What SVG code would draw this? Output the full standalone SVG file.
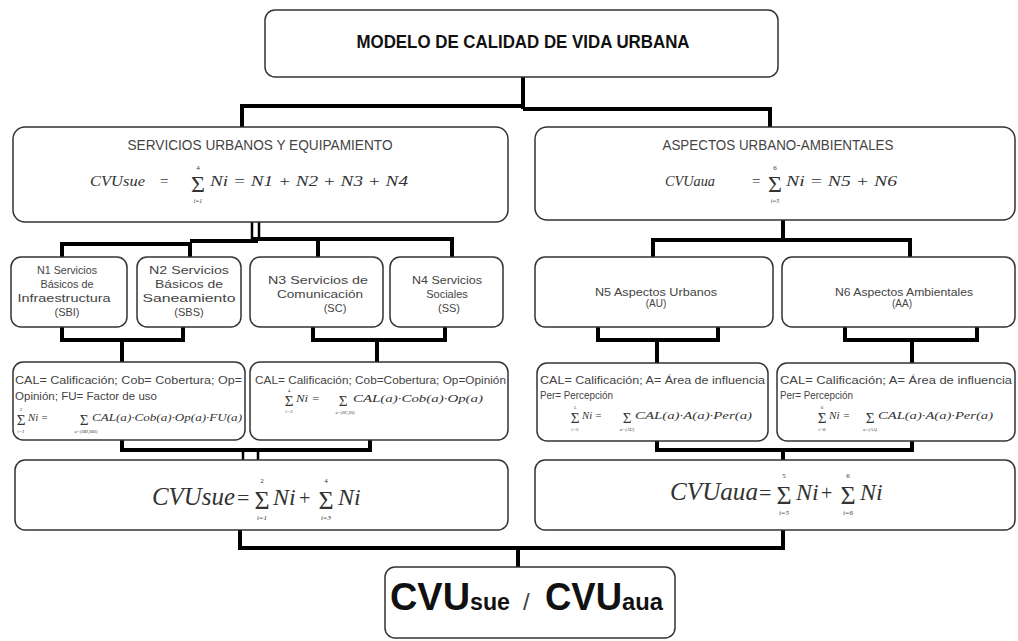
<svg xmlns="http://www.w3.org/2000/svg" width="1018" height="641" viewBox="0 0 1018 641">
<style>
.box{fill:#fff;stroke:#333;stroke-width:1.5}
.conn{fill:none;stroke:#000;stroke-width:4}
.thin{fill:none;stroke:#000;stroke-width:2.5}
.t{font-family:"Liberation Sans",Arial,sans-serif;fill:#444}
.c{text-anchor:middle}
.b{font-weight:bold;fill:#111}
.m{font-family:"Liberation Serif","Times New Roman",serif;font-style:italic;fill:#333}
.r{font-family:"Liberation Serif","Times New Roman",serif;fill:#333}
</style>
<rect width="1018" height="641" fill="#fff"/>
<g id="connectors">
<path class="conn" d="M523,77 V109 M242,128 V106 H523 M523,109 H770 V128"/>
<path class="thin" d="M252,222 V241 M259,222 V241"/>
<path class="conn" d="M62,257 V244 H190 V257 M190,241 H258 M252,239 H452 V257 M318,239 V257"/>
<path class="conn" d="M783,220 V240 M653,257 V240 H910 V257"/>
<path class="conn" d="M62,327 V340 H183 V327 M122,340 V362 M313,327 V340 H445 V327 M377,340 V362"/>
<path class="conn" d="M598,327 V340 H718 V327 M657,340 V363 M845,327 V340 H977 V327 M912,340 V363"/>
<path class="conn" d="M122,440 V450 H370 V440"/>
<path class="thin" d="M243,450 V460 M258,450 V460"/>
<path class="conn" d="M657,441 V450 H912 V441 M783,450 V460"/>
<path class="conn" d="M240,530 V548 H783 V530 M518,548 V567"/>
</g>
<g id="top">
<rect class="box" x="265" y="10" width="513" height="67" rx="10"/>
<text class="t b c" x="523" y="48" font-size="18" textLength="333" lengthAdjust="spacingAndGlyphs">MODELO DE CALIDAD DE VIDA URBANA</text>
</g>
<g id="servicios">
<rect class="box" x="13" y="127" width="495" height="95" rx="12"/>
<text class="t c" x="260" y="150" font-size="14" textLength="265" lengthAdjust="spacingAndGlyphs">SERVICIOS URBANOS Y EQUIPAMIENTO</text>
<text class="m" x="90" y="186" font-size="15" textLength="55" lengthAdjust="spacingAndGlyphs">CVUsue</text>
<text class="r" x="160" y="186" font-size="15">=</text>
<text class="r c" x="198" y="192" font-size="24">Σ</text>
<text class="r c" x="198" y="170" font-size="7">4</text>
<text class="m c" x="198" y="203" font-size="6">i=1</text>
<text class="m" x="210" y="186" font-size="15" textLength="198" lengthAdjust="spacingAndGlyphs">Ni = N1 + N2 + N3 + N4</text>
</g>
<g id="aspectos">
<rect class="box" x="535" y="127" width="480" height="93" rx="12"/>
<text class="t c" x="778" y="150" font-size="14" textLength="231" lengthAdjust="spacingAndGlyphs">ASPECTOS URBANO-AMBIENTALES</text>
<text class="m" x="665" y="186" font-size="14" textLength="50" lengthAdjust="spacingAndGlyphs">CVUaua</text>
<text class="r" x="752" y="186" font-size="15">=</text>
<text class="r c" x="775" y="192" font-size="24">Σ</text>
<text class="r c" x="775" y="170" font-size="7">6</text>
<text class="m c" x="775" y="203" font-size="6">i=5</text>
<text class="m" x="786" y="186" font-size="15" textLength="111" lengthAdjust="spacingAndGlyphs">Ni = N5 + N6</text>
</g>
<g id="n1">
<rect class="box" x="11" y="257" width="116" height="70" rx="10"/>
<text class="t c" x="67" y="274" font-size="11" textLength="60" lengthAdjust="spacingAndGlyphs">N1 Servicios</text>
<text class="t c" x="67" y="288" font-size="11" textLength="53" lengthAdjust="spacingAndGlyphs">Básicos de</text>
<text class="t c" x="64" y="302" font-size="11" textLength="93" lengthAdjust="spacingAndGlyphs">Infraestructura</text>
<text class="t c" x="67" y="316" font-size="11">(SBI)</text>
</g>
<g id="n2">
<rect class="box" x="137" y="257" width="104" height="70" rx="10"/>
<text class="t c" x="189" y="274" font-size="11" textLength="80" lengthAdjust="spacingAndGlyphs">N2 Servicios</text>
<text class="t c" x="189" y="288" font-size="11" textLength="68" lengthAdjust="spacingAndGlyphs">Básicos de</text>
<text class="t c" x="189" y="302" font-size="11" textLength="93" lengthAdjust="spacingAndGlyphs">Saneamiento</text>
<text class="t c" x="189" y="316" font-size="11">(SBS)</text>
</g>
<g id="n3">
<rect class="box" x="250" y="257" width="133" height="70" rx="10"/>
<text class="t c" x="318" y="284" font-size="11" textLength="100" lengthAdjust="spacingAndGlyphs">N3 Servicios de</text>
<text class="t c" x="320" y="298" font-size="11" textLength="86" lengthAdjust="spacingAndGlyphs">Comunicación</text>
<text class="t c" x="335" y="312" font-size="11">(SC)</text>
</g>
<g id="n4">
<rect class="box" x="390" y="257" width="113" height="70" rx="10"/>
<text class="t c" x="447" y="284" font-size="11" textLength="70" lengthAdjust="spacingAndGlyphs">N4 Servicios</text>
<text class="t c" x="447" y="298" font-size="11">Sociales</text>
<text class="t c" x="449" y="312" font-size="11">(SS)</text>
</g>
<g id="n5">
<rect class="box" x="535" y="257" width="238" height="70" rx="10"/>
<text class="t c" x="656" y="296" font-size="10" textLength="122" lengthAdjust="spacingAndGlyphs">N5 Aspectos Urbanos</text>
<text class="t c" x="656" y="307" font-size="10">(AU)</text>
</g>
<g id="n6">
<rect class="box" x="782" y="257" width="233" height="70" rx="10"/>
<text class="t c" x="904" y="296" font-size="10" textLength="138" lengthAdjust="spacingAndGlyphs">N6 Aspectos Ambientales</text>
<text class="t c" x="902" y="307" font-size="10">(AA)</text>
</g>
<g id="calA">
<rect class="box" x="13" y="362" width="232" height="78" rx="10"/>
<text class="t" x="15" y="384" font-size="10" textLength="227" lengthAdjust="spacingAndGlyphs">CAL= Calificación; Cob= Cobertura; Op=</text>
<text class="t" x="15" y="400" font-size="10" textLength="142" lengthAdjust="spacingAndGlyphs">Opinión; FU= Factor de uso</text>
<text class="r c" x="21" y="425" font-size="15">Σ</text>
<text class="r c" x="21" y="411" font-size="5">2</text>
<text class="m c" x="21" y="433" font-size="5">i=1</text>
<text class="m" x="28" y="421" font-size="10" textLength="20" lengthAdjust="spacingAndGlyphs">Ni =</text>
<text class="r c" x="84" y="425" font-size="15">Σ</text>
<text class="m c" x="86" y="433" font-size="4.5">a=(SBI,SBS)</text>
<text class="m" x="92" y="421" font-size="10" textLength="150" lengthAdjust="spacingAndGlyphs">CAL(a)·Cob(a)·Op(a)·FU(a)</text>
</g>
<g id="calB">
<rect class="box" x="250" y="362" width="258" height="78" rx="10"/>
<text class="t" x="255" y="384" font-size="10" textLength="251" lengthAdjust="spacingAndGlyphs">CAL= Calificación; Cob=Cobertura; Op=Opinión</text>
<text class="r c" x="289" y="406" font-size="15">Σ</text>
<text class="r c" x="289" y="392" font-size="5">4</text>
<text class="m c" x="289" y="413" font-size="5">i=3</text>
<text class="m" x="296" y="402" font-size="10" textLength="24" lengthAdjust="spacingAndGlyphs">Ni =</text>
<text class="r c" x="343" y="406" font-size="15">Σ</text>
<text class="m c" x="345" y="414" font-size="4.5">a=(SC,SS)</text>
<text class="m" x="353" y="402" font-size="10" textLength="130" lengthAdjust="spacingAndGlyphs">CAL(a)·Cob(a)·Op(a)</text>
</g>
<g id="calC">
<rect class="box" x="537" y="363" width="231" height="78" rx="10"/>
<text class="t" x="540" y="384" font-size="10" textLength="225" lengthAdjust="spacingAndGlyphs">CAL= Calificación; A= Área de influencia</text>
<text class="t" x="540" y="399" font-size="10" textLength="73" lengthAdjust="spacingAndGlyphs">Per= Percepción</text>
<text class="r c" x="575" y="423" font-size="15">Σ</text>
<text class="r c" x="575" y="409" font-size="5">5</text>
<text class="m c" x="575" y="431" font-size="5">i=5</text>
<text class="m" x="582" y="419" font-size="10" textLength="20" lengthAdjust="spacingAndGlyphs">Ni =</text>
<text class="r c" x="627" y="423" font-size="15">Σ</text>
<text class="m c" x="627" y="431" font-size="4.5">a=(AU)</text>
<text class="m" x="635" y="419" font-size="10" textLength="117" lengthAdjust="spacingAndGlyphs">CAL(a)·A(a)·Per(a)</text>
</g>
<g id="calD">
<rect class="box" x="777" y="363" width="238" height="78" rx="10"/>
<text class="t" x="780" y="384" font-size="10" textLength="232" lengthAdjust="spacingAndGlyphs">CAL= Calificación; A= Área de influencia</text>
<text class="t" x="780" y="399" font-size="10" textLength="73" lengthAdjust="spacingAndGlyphs">Per= Percepción</text>
<text class="r c" x="822" y="423" font-size="15">Σ</text>
<text class="r c" x="822" y="409" font-size="5">6</text>
<text class="m c" x="822" y="431" font-size="5">i=6</text>
<text class="m" x="829" y="419" font-size="10" textLength="21" lengthAdjust="spacingAndGlyphs">Ni =</text>
<text class="r c" x="870" y="423" font-size="15">Σ</text>
<text class="m c" x="870" y="431" font-size="4.5">a=(AA)</text>
<text class="m" x="878" y="419" font-size="10" textLength="115" lengthAdjust="spacingAndGlyphs">CAL(a)·A(a)·Per(a)</text>
</g>
<g id="cvusue">
<rect class="box" x="15" y="460" width="493" height="70" rx="10"/>
<text class="m" x="152" y="505" font-size="25" textLength="83" lengthAdjust="spacingAndGlyphs">CVUsue</text>
<text class="r" x="237" y="505" font-size="22">=</text>
<text class="r c" x="262" y="509" font-size="26">Σ</text>
<text class="r c" x="262" y="483" font-size="7">2</text>
<text class="m c" x="262" y="520" font-size="7">i=1</text>
<text class="m" x="273" y="505" font-size="24">Ni</text>
<text class="r" x="299" y="505" font-size="20">+</text>
<text class="r c" x="326" y="509" font-size="26">Σ</text>
<text class="r c" x="326" y="483" font-size="7">4</text>
<text class="m c" x="326" y="520" font-size="7">i=3</text>
<text class="m" x="338" y="505" font-size="24">Ni</text>
</g>
<g id="cvuaua">
<rect class="box" x="535" y="460" width="480" height="70" rx="10"/>
<text class="m" x="670" y="500" font-size="25" textLength="88" lengthAdjust="spacingAndGlyphs">CVUaua</text>
<text class="r" x="759" y="500" font-size="22">=</text>
<text class="r c" x="784" y="504" font-size="26">Σ</text>
<text class="r c" x="784" y="478" font-size="7">5</text>
<text class="m c" x="784" y="515" font-size="7">i=5</text>
<text class="m" x="796" y="500" font-size="24">Ni</text>
<text class="r" x="821" y="500" font-size="20">+</text>
<text class="r c" x="848" y="504" font-size="26">Σ</text>
<text class="r c" x="848" y="478" font-size="7">6</text>
<text class="m c" x="848" y="515" font-size="7">i=6</text>
<text class="m" x="860" y="500" font-size="24">Ni</text>
</g>
<g id="final">
<rect class="box" x="385" y="567" width="290" height="71" rx="10"/>
<text class="t b" x="390" y="610" font-size="38" textLength="80" lengthAdjust="spacingAndGlyphs">CVU</text>
<text class="t b" x="470" y="610" font-size="23" textLength="40" lengthAdjust="spacingAndGlyphs">sue</text>
<text class="t" x="523" y="610" font-size="24">/</text>
<text class="t b" x="545" y="610" font-size="38" textLength="77" lengthAdjust="spacingAndGlyphs">CVU</text>
<text class="t b" x="622" y="610" font-size="23" textLength="41" lengthAdjust="spacingAndGlyphs">aua</text>
</g>
</svg>
